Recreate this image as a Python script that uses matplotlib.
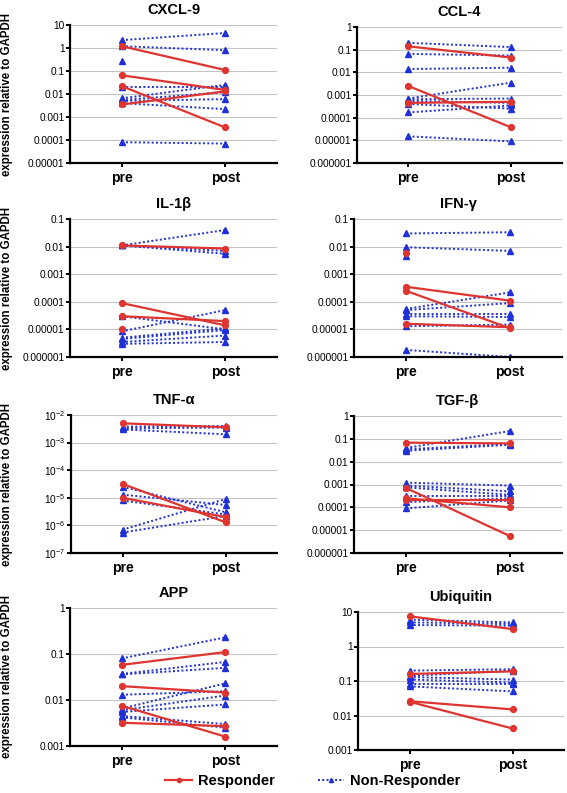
import numpy as np
import matplotlib
matplotlib.use("Agg")
import matplotlib.pyplot as plt
from matplotlib.ticker import FuncFormatter, NullLocator
from matplotlib.lines import Line2D

plt.rcParams['font.family'] = ['Liberation Sans', 'DejaVu Sans']

nan = np.nan

# (pre, post) pairs per gene
cxcl9_resp = [(1.2, 0.11), (0.065, 0.015), (0.022, 0.00035), (0.0035, 0.013)]
cxcl9_non = [(2.2, 4.5), (1.2, 0.8), (0.27, nan), (0.02, 0.02), (0.0065, 0.025),
             (0.0055, 0.012), (0.005, 0.006), (0.004, 0.0022), (0.00008, 0.00007)]

ccl4_resp = [(0.14, 0.045), (0.0025, 0.000038), (0.00045, 0.0005)]
ccl4_non = [(0.2, 0.13), (0.065, 0.055), (0.014, 0.016), (0.0007, 0.0035),
            (0.00065, 0.0007), (0.00055, 0.00045), (0.0004, 0.00025),
            (0.00017, 0.00035), (0.000015, 0.000009)]

il1b_resp = [(0.011, 0.0085), (0.00009, 0.000014), (0.00003, 0.00002), (0.00001, nan)]
il1b_non = [(0.011, 0.04), (0.011, 0.007), (0.011, 0.0055), (0.00003, 0.00001),
            (0.0000085, 0.00005), (0.000005, 0.000011), (0.0000045, 0.0000095),
            (0.0000035, 0.000006), (0.000003, 0.0000035)]

ifng_resp = [(0.006, nan), (0.00035, 0.00011), (0.00025, 0.000011), (0.000016, 0.000012)]
ifng_non = [(0.03, 0.033), (0.0095, 0.007), (0.0045, nan), (0.000055, 0.00022),
            (0.00005, 0.00009), (0.000035, 0.000035), (0.00003, 0.000028),
            (0.000013, 0.000015), (0.0000018, 0.000001)]

tnfa_resp = [(5e-3, 3.6e-3), (3.2e-5, 1.3e-6), (1e-5, 2e-6)]
tnfa_non = [(3.8e-3, 4e-3), (3.3e-3, 3.5e-3), (3e-3, 2e-3), (2.5e-5, 3e-6),
            (1.3e-5, 5.5e-6), (8e-6, 2.5e-6), (7e-7, 9e-6), (5.5e-7, 2.2e-6)]

tgfb_resp = [(0.068, 0.063), (0.0007, 0.0000055), (0.00025, 0.0001), (0.0002, 0.0002)]
tgfb_non = [(0.04, 0.22), (0.03, 0.055), (0.035, 0.06), (0.0012, 0.0009),
            (0.0009, 0.0005), (0.00075, 0.00035), (0.0003, 0.0003),
            (0.00017, 0.00025), (0.00009, 0.0002)]

app_resp = [(0.058, 0.11), (0.02, 0.0145), (0.0075, 0.0016), (0.0032, 0.0027)]
app_non = [(0.08, 0.23), (0.037, 0.067), (0.036, 0.05), (0.013, 0.0155),
           (0.0065, 0.023), (0.006, 0.0125), (0.0055, 0.008), (0.0045, 0.003),
           (0.0042, 0.0025)]

ubq_resp = [(7.5, 3.2), (0.16, 0.19), (0.026, 0.015), (0.025, 0.0042)]
ubq_non = [(6, 5), (5, 4.5), (4.2, 4), (0.2, 0.22), (0.14, 0.2), (0.13, 0.11),
           (0.11, 0.09), (0.08, 0.08), (0.07, 0.05)]

titles = ['CXCL-9', 'CCL-4', 'IL-1β', 'IFN-γ', 'TNF-α', 'TGF-β', 'APP', 'Ubiquitin']
resp_sets = [cxcl9_resp, ccl4_resp, il1b_resp, ifng_resp, tnfa_resp, tgfb_resp, app_resp, ubq_resp]
non_sets = [cxcl9_non, ccl4_non, il1b_non, ifng_non, tnfa_non, tgfb_non, app_non, ubq_non]
ylog_range = [(-5, 1), (-6, 0), (-6, -1), (-6, -1), (-7, -2), (-6, 0), (-3, 0), (-3, 1)]
timepoints = ['pre', 'post']

RED = '#de3530'
BLUE = '#1f30d8'
W, H = 567, 793

# axes boxes in pixels: left, top, right, bottom
boxes = [(70, 25, 277, 163), (357, 27, 562, 163),
         (70, 219, 277, 357), (354, 219, 562, 357),
         (71, 415, 277, 553), (354, 416, 562, 553),
         (70, 608, 277, 746), (358, 612, 564, 750)]


def dec_fmt(v, pos):
    d = int(np.round(np.log10(v)))
    return f"{10.0 ** d:.{max(0, -d)}f}"


fig = plt.figure(figsize=(W / 100, H / 100), dpi=100)

for i, (l, t, r, b) in enumerate(boxes):
    ax = fig.add_axes([l / W, 1 - b / H, (r - l) / W, (b - t) / H])
    x = np.arange(len(timepoints))
    for pair in non_sets[i]:
        ax.plot(x, pair, color=BLUE, ls=(0, (1, 1.2)), lw=1.4, marker='^', ms=4.2,
                mec=BLUE, zorder=2)
    for pair in resp_sets[i]:
        ax.plot(x, pair, color=RED, ls='-', lw=1.6, marker='o', ms=4.2, zorder=3)

    ax.set_yscale('log')
    lo, hi = ylog_range[i]
    ax.set_ylim(10.0 ** lo, 10.0 ** hi)
    ax.set_yticks(10.0 ** np.arange(lo, hi + 1))
    ax.yaxis.set_minor_locator(NullLocator())
    if titles[i] != 'TNF-α':
        ax.yaxis.set_major_formatter(FuncFormatter(dec_fmt))
    ax.set_xlim(-0.5, 1.5)
    ax.set_xticks(x)
    ax.set_xticklabels(timepoints, fontsize=10, fontweight='bold')
    ax.tick_params(axis='y', labelsize=7.3, length=3, width=1.4, pad=1)
    ax.tick_params(axis='x', length=3, width=1.4, pad=3)
    ax.grid(axis='y', color='#c4c4c4', lw=0.8)
    ax.set_axisbelow(True)
    for s in ['top', 'right']:
        ax.spines[s].set_visible(False)
    for s in ['left', 'bottom']:
        ax.spines[s].set_linewidth(1.6)
    ax.set_title(titles[i], fontsize=10.5, fontweight='bold', pad=8)
    if i % 2 == 0:
        fig.text(7 / W, 1 - ((t + b) / 2) / H, 'expression relative to GAPDH',
                 rotation=90, ha='center', va='center', fontsize=8.3, fontweight='bold')

handles = [Line2D([], [], color=RED, lw=1.6, marker='o', ms=3),
           Line2D([], [], color=BLUE, lw=1.4, ls=(0, (1, 1.2)), marker='^', ms=3)]
fig.legend(handles, ['Responder', 'Non-Responder'], loc='center',
           bbox_to_anchor=(313 / W, 1 - 781 / H), ncol=2, frameon=False,
           prop={'size': 10.5, 'weight': 'bold'}, handlelength=1.8,
           handletextpad=0.4, columnspacing=3.0, borderpad=0)

fig.savefig('out.png', dpi=100)
